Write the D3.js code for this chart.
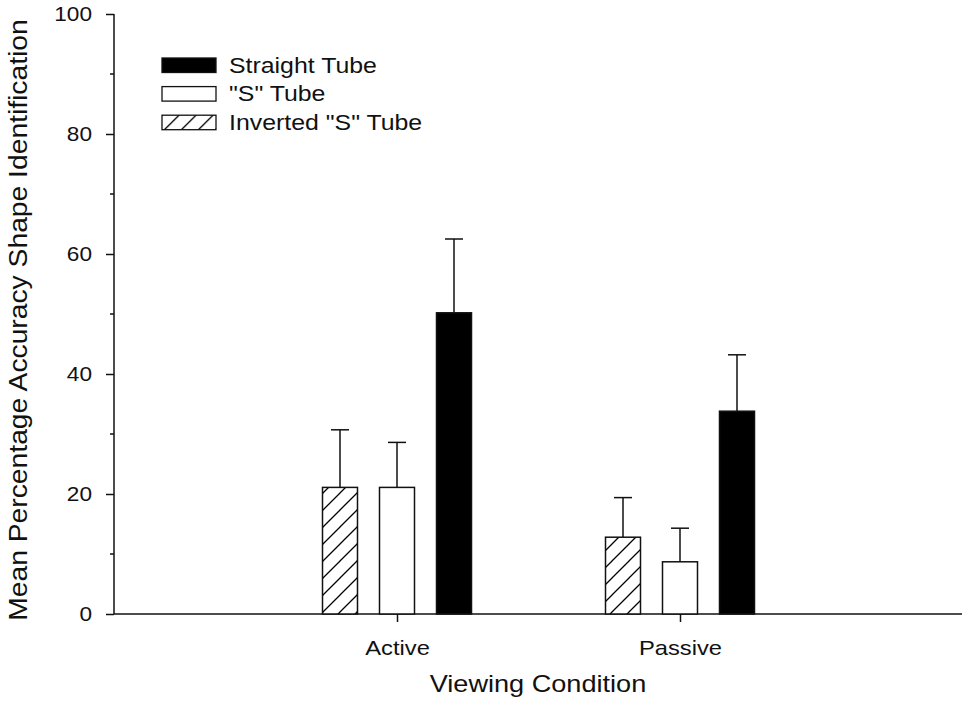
<!DOCTYPE html>
<html>
<head>
<meta charset="utf-8">
<script src="https://cdn.jsdelivr.net/npm/d3@7"></script>
<style>
  body { margin: 0; background: #fff; }
  svg { display: block; font-family: "Liberation Sans", Arial, sans-serif; }
</style>
</head>
<body>
<svg id="chart" width="962" height="714"></svg>
<script>
// values
var categories = ["Active", "Passive"];
var seriesNames = ["Inverted \"S\" Tube", "\"S\" Tube", "Straight Tube"];
var invertedMean = [21.1, 12.8];
var invertedErr = [9.6, 6.6];
var sTubeMean = [21.1, 8.7];
var sTubeErr = [7.5, 5.6];
var straightMean = [50.2, 33.8];
var straightErr = [12.3, 9.4];
var yTicks = [0, 20, 40, 60, 80, 100];
var yMinor = [10, 30, 50, 70, 90];
var legendOrder = ["Straight Tube", "\"S\" Tube", "Inverted \"S\" Tube"];

var fills = {};
fills[seriesNames[0]] = "url(#hatch)";
fills[seriesNames[1]] = "#fff";
fills[seriesNames[2]] = "#000";

var rows = [];
categories.forEach(function(c, i){
    rows.push({cat: c, idx: i, name: seriesNames[0], v: invertedMean[i], e: invertedErr[i]});
    rows.push({cat: c, idx: i, name: seriesNames[1], v: sTubeMean[i], e: sTubeErr[i]});
    rows.push({cat: c, idx: i, name: seriesNames[2], v: straightMean[i], e: straightErr[i]});
});

var svg = d3.select("#chart");

var defs = svg.append("defs");
var pat = defs.append("pattern")
    .attr("id", "hatch")
    .attr("patternUnits", "userSpaceOnUse")
    .attr("width", 17).attr("height", 17);
pat.append("rect").attr("width", 17).attr("height", 17).attr("fill", "#fff");
pat.append("path")
    .attr("d", "M-2,19 L19,-2 M-5,5 L5,-5 M12,22 L22,12")
    .attr("stroke", "#000").attr("stroke-width", 1.3);

var x = d3.scaleLinear().domain([-1, 2]).range([114, 963]);
var y = d3.scaleLinear().domain([0, 100]).range([614, 14]);
var inner = d3.scaleBand().domain(seriesNames).range([-74.5, 74.5]).paddingInner(0.386).paddingOuter(0);

var ink = "#111";

// y axis
var yAxis = svg.append("g")
    .attr("transform", "translate(114,0)")
    .call(d3.axisLeft(y).tickValues(yTicks).tickSize(8).tickPadding(14).tickFormat(d3.format("d")));
yAxis.select(".domain").attr("stroke", ink).attr("stroke-width", 1.5).attr("d", "M0,14V614");
yAxis.selectAll(".tick line").attr("stroke", ink).attr("stroke-width", 1.5);
yAxis.selectAll(".tick text").attr("font-size", 20).attr("fill", ink).attr("font-family", null);
yAxis.attr("font-family", null);

svg.append("g").selectAll("line")
    .data(yMinor).enter().append("line")
    .attr("x1", 110).attr("x2", 114)
    .attr("y1", d => y(d)).attr("y2", d => y(d))
    .attr("stroke", ink).attr("stroke-width", 1.5);

// x axis
var xAxis = svg.append("g")
    .attr("transform", "translate(0,614)")
    .call(d3.axisBottom(x).tickValues([0, 1]).tickSize(8).tickPadding(18).tickFormat(i => categories[i]));
xAxis.select(".domain").attr("stroke", ink).attr("stroke-width", 1.5).attr("d", "M114,0H962");
xAxis.selectAll(".tick line").attr("stroke", ink).attr("stroke-width", 1.5);
xAxis.selectAll(".tick text").attr("font-size", 21).attr("fill", ink).attr("dy", "0.71em");
xAxis.attr("font-family", null);

// bars
svg.append("g").selectAll("rect")
    .data(rows).enter().append("rect")
    .attr("x", d => x(d.idx) + inner(d.name))
    .attr("y", d => y(d.v))
    .attr("width", inner.bandwidth())
    .attr("height", d => y(0) - y(d.v))
    .attr("fill", d => fills[d.name])
    .attr("stroke", ink).attr("stroke-width", 1.5);

// error bars (upper only)
var err = svg.append("g").attr("stroke", ink).attr("stroke-width", 1.5);
err.selectAll(".stem")
    .data(rows).enter().append("line")
    .attr("class", "stem")
    .attr("x1", d => x(d.idx) + inner(d.name) + inner.bandwidth() / 2)
    .attr("x2", d => x(d.idx) + inner(d.name) + inner.bandwidth() / 2)
    .attr("y1", d => y(d.v))
    .attr("y2", d => y(d.v + d.e));
err.selectAll(".cap")
    .data(rows).enter().append("line")
    .attr("class", "cap")
    .attr("x1", d => x(d.idx) + inner(d.name) + inner.bandwidth() / 2 - 9)
    .attr("x2", d => x(d.idx) + inner(d.name) + inner.bandwidth() / 2 + 9)
    .attr("y1", d => y(d.v + d.e))
    .attr("y2", d => y(d.v + d.e));

// legend
var legend = svg.append("g").attr("transform", "translate(162,58)");
var item = legend.selectAll("g")
    .data(legendOrder).enter().append("g")
    .attr("transform", (d, i) => "translate(0," + (i * 28.6) + ")");
item.append("rect")
    .attr("width", 54).attr("height", 14.5)
    .attr("fill", d => fills[d])
    .attr("stroke", ink).attr("stroke-width", 1.3);
item.append("text")
    .attr("x", 67).attr("y", 14.5)
    .attr("font-size", 22).attr("fill", ink)
    .text(d => d);

// axis titles
svg.append("text")
    .attr("x", 538).attr("y", 692)
    .attr("text-anchor", "middle")
    .attr("font-size", 24).attr("fill", ink)
    .text("Viewing Condition");

svg.append("text")
    .attr("transform", "translate(27,320) rotate(-90)")
    .attr("text-anchor", "middle")
    .attr("font-size", 25).attr("fill", ink)
    .text("Mean Percentage Accuracy Shape Identification");

// the scanned type is a bit wider than Arial, stretch it a little
svg.selectAll("text").each(function(){
    var w = this.getComputedTextLength();
    d3.select(this).attr("textLength", w * 1.13).attr("lengthAdjust", "spacingAndGlyphs");
});
</script>
</body>
</html>
